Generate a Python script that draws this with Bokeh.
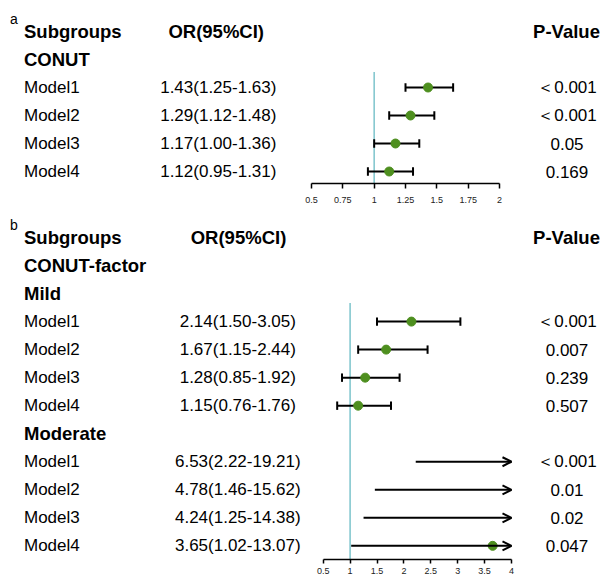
from bokeh.plotting import figure
from bokeh.models import Range1d, LinearAxis, FixedTicker, ColumnDataSource, Arrow, OpenHead
from bokeh.layouts import column
from bokeh.embed import file_html
from bokeh.resources import INLINE
from bokeh.core.properties import value

# ---------------- data: panel a ----------------
a_group = "CONUT"
a_models = ["Model1", "Model2", "Model3", "Model4"]
a_or = [1.43, 1.29, 1.17, 1.12]
a_lo = [1.25, 1.12, 1.00, 0.95]
a_hi = [1.63, 1.48, 1.36, 1.31]
a_p = ["＜0.001", "＜0.001", "0.05", "0.169"]
a_ticks = [0.5, 0.75, 1, 1.25, 1.5, 1.75, 2]
a_tick_labels = ["0.5", "0.75", "1", "1.25", "1.5", "1.75", "2"]

# ---------------- data: panel b ----------------
b_group = "CONUT-factor"
b_subgroups = ["Mild", "Moderate"]
b_models = ["Model1", "Model2", "Model3", "Model4"]
b_mild_or = [2.14, 1.67, 1.28, 1.15]
b_mild_lo = [1.50, 1.15, 0.85, 0.76]
b_mild_hi = [3.05, 2.44, 1.92, 1.76]
b_mild_p = ["＜0.001", "0.007", "0.239", "0.507"]
b_mod_or = [6.53, 4.78, 4.24, 3.65]
b_mod_lo = [2.22, 1.46, 1.25, 1.02]
b_mod_hi = [19.21, 15.62, 14.38, 13.07]
b_mod_p = ["＜0.001", "0.01", "0.02", "0.047"]
b_ticks = [0.5, 1, 1.5, 2, 2.5, 3, 3.5, 4]
b_tick_labels = ["0.5", "1", "1.5", "2", "2.5", "3", "3.5", "4"]

ref_value = 1

# ---------------- styling / layout ----------------
FONT = value("Liberation Sans")
W = 605
GREEN = "#4E8F1F"
REFCOL = "#7DC4CC"
BODY = "17px"
HEAD = "18.5px"
X_LABEL = 23.5
X_P = 566
CAP = 0.15


def or_range(v0, px0, v1, px1):
    s = (px1 - px0) / (v1 - v0)
    return Range1d(start=v0 - px0 / s, end=v1 + (W - px1) / s)


def make_fig(height, min_bb, yr, orr):
    p = figure(width=W, height=height, output_backend="svg", toolbar_location=None,
               x_range=Range1d(0, W), y_range=yr, x_axis_type=None, y_axis_type=None,
               min_border_left=0, min_border_right=0, min_border_top=0,
               min_border_bottom=min_bb)
    p.extra_x_ranges = {"or": orr}
    p.outline_line_color = None
    p.background_fill_color = "white"
    p.border_fill_color = "white"
    return p


def add_axis(p, ticks, labels, tick_out, standoff):
    ax = LinearAxis(x_range_name="or", ticker=FixedTicker(ticks=ticks),
                    bounds=(ticks[0], ticks[-1]),
                    major_label_overrides={float(t): l for t, l in zip(ticks, labels)})
    ax.axis_line_width = 1.5
    ax.axis_line_color = "black"
    ax.major_tick_line_width = 1.5
    ax.major_tick_line_color = "black"
    ax.major_tick_out = tick_out
    ax.major_tick_in = 0
    ax.minor_tick_out = 0
    ax.minor_tick_in = 0
    ax.major_label_text_font = "Liberation Sans"
    ax.major_label_text_font_size = "9px"
    ax.major_label_text_color = "#222222"
    ax.major_label_standoff = standoff
    p.add_layout(ax, "below")


def txt(p, x, y, s, size=BODY, bold=False, align="left"):
    p.text(x=[x], y=[y], text=[s], text_font=FONT, text_font_size=size,
           text_font_style="bold" if bold else "normal", text_baseline="middle",
           text_align=align, text_color="black")


def draw_rows(p, rows, ors, los, his, xmax):
    for r, o, lo, hi in zip(rows, ors, los, his):
        if hi > xmax:
            src = ColumnDataSource(dict(x0=[lo], x1=[min(hi, xmax)], y=[r]))
            p.add_layout(Arrow(end=OpenHead(size=9, line_width=2, line_color="black"),
                               x_start="x0", y_start="y", x_end="x1", y_end="y",
                               source=src, line_width=2, line_color="black",
                               x_range_name="or"))
        else:
            p.segment(x0=[lo], y0=[r], x1=[hi], y1=[r], line_width=2, line_color="black",
                      x_range_name="or")
            p.segment(x0=[lo, hi], y0=[r - CAP, r - CAP], x1=[lo, hi], y1=[r + CAP, r + CAP],
                      line_width=2, line_color="black", x_range_name="or")
        if o <= xmax:
            p.scatter(x=[o], y=[r], size=9, fill_color=GREEN, line_color=GREEN,
                      x_range_name="or")


# ---------------- panel a ----------------
a_y0, a_s = 31.0, 28.0
a_fh = 183
a_yr = Range1d(start=(a_fh - a_y0) / a_s, end=-a_y0 / a_s)
pa = make_fig(208, 25, a_yr, or_range(0.5, 311, 2, 499))
pa.segment(x0=[ref_value], x1=[ref_value], y0=[1.45], y1=[a_yr.start], line_color=REFCOL,
           line_width=1.5, x_range_name="or")
a_rows = [2 + i for i in range(len(a_models))]
draw_rows(pa, a_rows, a_or, a_lo, a_hi, a_ticks[-1])
add_axis(pa, a_ticks, a_tick_labels, 5, 8)
txt(pa, 9.5, -0.46, "a", size="14px")
txt(pa, X_LABEL, 0, "Subgroups", HEAD, True)
txt(pa, 215.7, 0, "OR(95%CI)", HEAD, True, "center")
txt(pa, X_P, 0, "P-Value", HEAD, True, "center")
txt(pa, X_LABEL, 1, a_group, HEAD, True)
for r, m, o, lo, hi, pv in zip(a_rows, a_models, a_or, a_lo, a_hi, a_p):
    txt(pa, X_LABEL, r, m)
    txt(pa, 217.8, r, f"{o:.2f}({lo:.2f}-{hi:.2f})", align="center")
    txt(pa, X_P + 0.5, r, pv, align="center")

# ---------------- panel b ----------------
b_y0, b_s = 29.0, 28.03
b_h, b_bb = 370, 19
b_fh = b_h - b_bb
b_yr = Range1d(start=(b_fh - b_y0) / b_s, end=-b_y0 / b_s)
pb = make_fig(b_h, b_bb, b_yr, or_range(0.5, 322.7, 4, 511))
pb.segment(x0=[ref_value], x1=[ref_value], y0=[2.34], y1=[b_yr.start], line_color=REFCOL,
           line_width=1.5, x_range_name="or")
mild_rows = [3 + i for i in range(len(b_models))]
mod_rows = [8 + i for i in range(len(b_models))]
draw_rows(pb, mild_rows, b_mild_or, b_mild_lo, b_mild_hi, b_ticks[-1])
draw_rows(pb, mod_rows, b_mod_or, b_mod_lo, b_mod_hi, b_ticks[-1])
add_axis(pb, b_ticks, b_tick_labels, 4, 4)
txt(pb, 9.5, -0.46, "b", size="14px")
txt(pb, X_LABEL, 0, "Subgroups", HEAD, True)
txt(pb, 238, 0, "OR(95%CI)", HEAD, True, "center")
txt(pb, X_P, 0, "P-Value", HEAD, True, "center")
txt(pb, X_LABEL, 1, b_group, HEAD, True)
txt(pb, X_LABEL, 2, b_subgroups[0], HEAD, True)
txt(pb, X_LABEL, 7, b_subgroups[1], HEAD, True)
for rows, ors, los, his, ps in [(mild_rows, b_mild_or, b_mild_lo, b_mild_hi, b_mild_p),
                                (mod_rows, b_mod_or, b_mod_lo, b_mod_hi, b_mod_p)]:
    for r, m, o, lo, hi, pv in zip(rows, b_models, ors, los, his, ps):
        txt(pb, X_LABEL, r, m)
        txt(pb, 237.3, r, f"{o:.2f}({lo:.2f}-{hi:.2f})", align="center")
        txt(pb, X_P + 0.5, r, pv, align="center")

layout = column(pa, pb, spacing=0)
open("out.html", "w").write(file_html(layout, INLINE))
